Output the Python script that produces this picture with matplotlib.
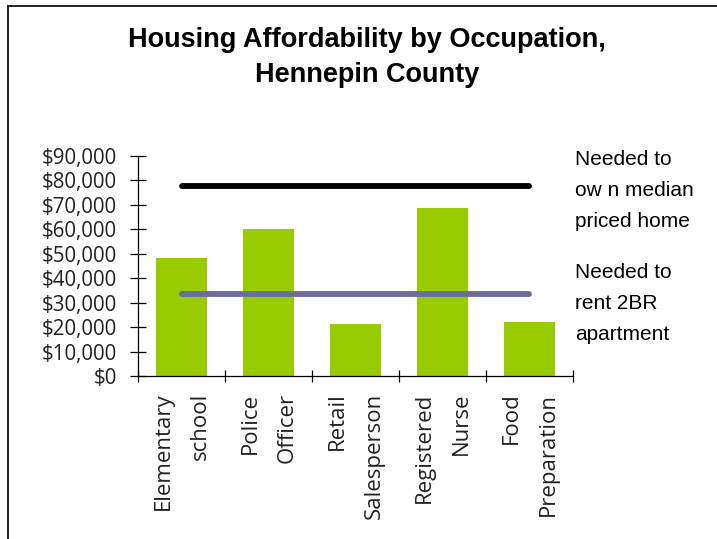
import matplotlib
matplotlib.use("Agg")
import matplotlib.pyplot as plt
from matplotlib.lines import Line2D

# data
occupations = ["Elementary\nschool", "Police\nOfficer", "Retail\nSalesperson",
               "Registered\nNurse", "Food\nPreparation"]
wages = [48400, 60000, 21300, 68900, 22100]
own_needed = 77700    # needed to own median priced home
rent_needed = 33500   # needed to rent 2BR apartment
yticks = list(range(0, 90001, 10000))

plt.rcParams['font.family'] = ['Liberation Sans', 'DejaVu Sans']
label_font = ['Open Sans', 'DejaVu Sans']

fig = plt.figure(figsize=(7.17, 5.39), dpi=100)
ax = fig.add_axes([0.1925, 0.3024, 0.6065, 0.4082])

x = list(range(len(occupations)))
ax.bar(x, wages, width=0.58, color="#99CC00", zorder=2)
ax.plot([x[0], x[-1]], [own_needed, own_needed], color="black", lw=4.2,
        solid_capstyle="round", zorder=3)
ax.plot([x[0], x[-1]], [rent_needed, rent_needed], color="#6B6B9E", lw=4.2,
        solid_capstyle="round", zorder=3)

ax.set_xlim(-0.5, 4.5)
ax.set_ylim(0, 90000)
ax.set_yticks(yticks)
ax.set_yticklabels(["${:,}".format(v) for v in yticks], fontsize=14.8,
                   color="#222222", family=label_font)

# ticks sit on category boundaries, labels at centers
ax.set_xticks([i - 0.5 for i in range(len(occupations) + 1)])
ax.set_xticklabels([])
ax.set_xticks(x, minor=True)
ax.set_xticklabels(occupations, minor=True, rotation=90, fontsize=16,
                   multialignment="right", va="top", ha="center", linespacing=2.0,
                   color="#222222", family=label_font)
ax.tick_params(axis="x", which="minor", length=0, pad=12)
ax.tick_params(axis="x", which="major", direction="inout", length=9, width=0.9)
ax.tick_params(axis="y", direction="inout", length=11, width=0.9, pad=9.5)

for s in ["top", "right"]:
    ax.spines[s].set_visible(False)
for s in ["left", "bottom"]:
    ax.spines[s].set_linewidth(0.9)

fig.text(0.512, 0.894, "Housing Affordability by Occupation,\nHennepin County",
         ha="center", va="center", fontsize=19.5, fontweight="bold", linespacing=1.45)

fig.text(0.802, 0.6465, "Needed to\now n median\npriced home", ha="left", va="center",
         fontsize=15, linespacing=1.82)
fig.text(0.802, 0.437, "Needed to\nrent 2BR\napartment", ha="left", va="center",
         fontsize=15, linespacing=1.82)

# frame on the left and top edges
fig.add_artist(Line2D([0.0112, 0.0112], [0.0, 0.988], transform=fig.transFigure,
                      color="#222222", lw=1.4))
fig.add_artist(Line2D([0.0112, 1.0], [0.988, 0.988], transform=fig.transFigure,
                      color="#222222", lw=1.4))

fig.savefig("out.png", dpi=100)
